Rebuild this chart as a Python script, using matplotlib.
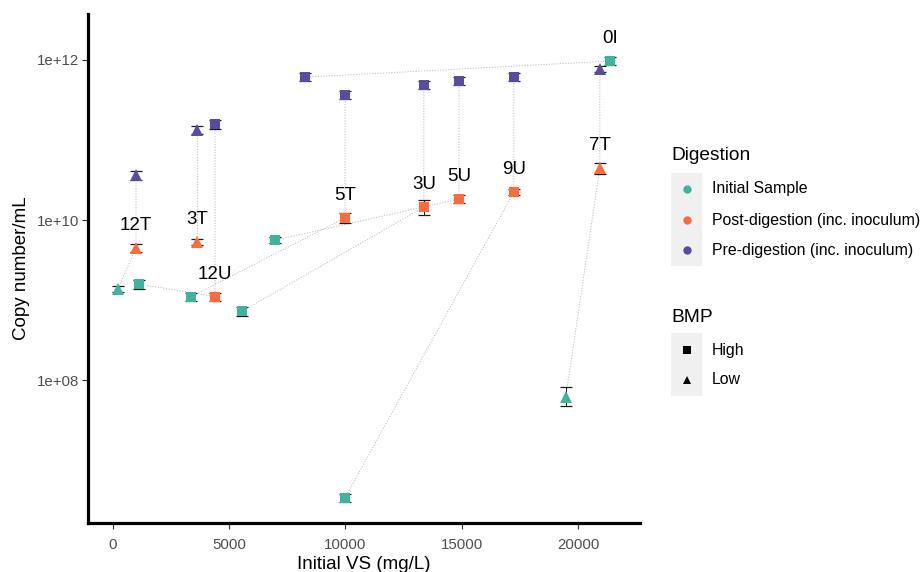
import matplotlib
matplotlib.use("Agg")
import matplotlib.pyplot as plt
from matplotlib.patches import Rectangle

plt.rcParams['font.family'] = ['Liberation Sans', 'DejaVu Sans']

# ---------------- data ----------------
# Initial sample (teal)
init_samples = ["0I", "12T", "12U", "5T", "3U", "5U", "9U", "7T"]
init_bmp = ["High", "Low", "High", "High", "High", "High", "High", "Low"]
init_vs = [21370, 215, 1118, 3353, 5546, 6965, 9975, 19475]
init_copies = [9.7e11, 1.38e9, 1.58e9, 1.1e9, 7.2e8, 5.6e9, 3.35e6, 6.2e7]
init_lo = [8.65e11, 1.27e9, 1.39e9, 9.8e8, 6.4e8, 5.1e9, 2.95e6, 4.7e7]
init_hi = [1.09e12, 1.50e9, 1.80e9, 1.23e9, 8.1e8, 6.1e9, 3.80e6, 8.15e7]

# Post-digestion (orange)
post_samples = ["12T", "3T", "12U", "5T", "3U", "5U", "9U", "7T"]
post_bmp = ["Low", "Low", "High", "High", "High", "High", "High", "Low"]
post_vs = [990, 3610, 4390, 9980, 13370, 14880, 17240, 20940]
post_copies = [4.5e9, 5.3e9, 1.1e9, 1.06e10, 1.45e10, 1.83e10, 2.24e10, 4.47e10]
post_lo = [4.0e9, 4.85e9, 9.8e8, 9.2e9, 1.15e10, 1.63e10, 2.03e10, 3.8e10]
post_hi = [5.05e9, 5.8e9, 1.23e9, 1.22e10, 1.77e10, 2.05e10, 2.47e10, 5.2e10]

# Pre-digestion (purple)
pre_samples = ["0I", "12T", "3T", "12U", "5T", "3U", "5U", "9U", "7T"]
pre_bmp = ["High", "Low", "Low", "High", "High", "High", "High", "High", "Low"]
pre_vs = [8254, 990, 3610, 4390, 9980, 13370, 14880, 17240, 20940]
pre_copies = [6.1e11, 3.6e10, 1.33e11, 1.58e11, 3.65e11, 4.9e11, 5.45e11, 6.1e11, 7.7e11]
pre_lo = [5.45e11, 3.2e10, 1.19e11, 1.39e11, 3.25e11, 4.37e11, 4.86e11, 5.45e11, 7.05e11]
pre_hi = [6.85e11, 4.05e10, 1.49e11, 1.8e11, 4.1e11, 5.5e11, 6.1e11, 6.85e11, 8.4e11]

x_ticks = [0, 5000, 10000, 15000, 20000]
y_ticks = [1e8, 1e10, 1e12]
y_tick_labels = ["1e+08", "1e+10", "1e+12"]

digestion_names = ["Initial Sample", "Post-digestion (inc. inoculum)", "Pre-digestion (inc. inoculum)"]
bmp_names = ["High", "Low"]

# ---------------- styles ----------------
COLORS = {"Initial Sample": "#3DB59D", "Post-digestion (inc. inoculum)": "#FF6A3B",
          "Pre-digestion (inc. inoculum)": "#5A4AA0"}
MARKERS = {"High": "s", "Low": "^"}
MSIZE = {"High": 7.0, "Low": 8.0}

W, H = 921, 572
fig = plt.figure(figsize=(W / 100, H / 100), dpi=100)
ax = fig.add_axes([88 / W, 49 / H, 552 / W, 509 / H])

stages = [
    ("Initial Sample", init_samples, init_bmp, init_vs, init_copies, init_lo, init_hi),
    ("Post-digestion (inc. inoculum)", post_samples, post_bmp, post_vs, post_copies, post_lo, post_hi),
    ("Pre-digestion (inc. inoculum)", pre_samples, pre_bmp, pre_vs, pre_copies, pre_lo, pre_hi),
]

# connecting paths per sample: Initial -> Post -> Pre
all_samples = []
for st in stages:
    for s in st[1]:
        if s not in all_samples:
            all_samples.append(s)
for s in all_samples:
    xs, ys = [], []
    for st in stages:
        if s in st[1]:
            i = st[1].index(s)
            xs.append(st[3][i])
            ys.append(st[4][i])
    ax.plot(xs, ys, color="#BDBDBD", lw=0.7, ls=(0, (1.2, 1.6)), zorder=1)

# error bars (behind) and points
for name, samples, bmps, vs, cp, lo, hi in stages:
    for i in range(len(samples)):
        ax.errorbar([vs[i]], [cp[i]], yerr=[[cp[i] - lo[i]], [hi[i] - cp[i]]],
                    fmt="none", ecolor="#1a1a1a", elinewidth=0.7, capsize=4.2,
                    capthick=0.9, zorder=2)
        ax.plot([vs[i]], [cp[i]], marker=MARKERS[bmps[i]], ms=MSIZE[bmps[i]],
                color=COLORS[name], mew=0, ls="none", zorder=3)

# sample labels: above post-digestion point, else above initial point
for s in all_samples:
    if s in post_samples:
        i = post_samples.index(s)
        x, y = post_vs[i], post_copies[i]
    else:
        i = init_samples.index(s)
        x, y = init_vs[i], init_copies[i]
    ax.annotate(s, (x, y), xytext=(0, 16), textcoords="offset points",
                ha="center", va="center", fontsize=13.5, color="black", zorder=5)

ax.set_yscale("log")
ax.set_xlim(-1075, 22667)
ax.set_ylim(10 ** 6.2125, 10 ** 12.575)
ax.set_xticks(x_ticks)
ax.set_xticklabels([str(t) for t in x_ticks])
ax.set_yticks(y_ticks)
ax.set_yticklabels(y_tick_labels)
ax.minorticks_off()
ax.tick_params(axis="both", length=4, width=0.8, color="#333333",
               labelcolor="#4D4D4D", labelsize=10.8)
ax.tick_params(axis="x", pad=7)
ax.tick_params(axis="y", pad=2.5)
for side in ["top", "right"]:
    ax.spines[side].set_visible(False)
for side in ["left", "bottom"]:
    ax.spines[side].set_linewidth(2.3)
    ax.spines[side].set_color("black")
ax.set_xlabel("Initial VS (mg/L)", fontsize=13.5, labelpad=3)
ax.set_ylabel("Copy number/mL", fontsize=13.5, labelpad=5)

# ---------------- legend (pixel coordinates) ----------------
lax = fig.add_axes([0, 0, 1, 1])
lax.set_xlim(0, W)
lax.set_ylim(H, 0)
lax.axis("off")
lax.patch.set_visible(False)

lax.text(671, 156, "Digestion", fontsize=13.8, va="center", ha="left")
lax.add_patch(Rectangle((671, 173), 31, 93, color="#F0F0F0", lw=0))
for j, (nm, yy) in enumerate(zip(digestion_names, [189, 220, 250])):
    lax.plot([686.5], [yy], marker="o", ms=6, color=COLORS[nm], mew=0)
    lax.text(712, yy, nm, fontsize=11.4, va="center", ha="left")

lax.text(671, 317, "BMP", fontsize=13.8, va="center", ha="left")
lax.add_patch(Rectangle((671, 333), 31, 63, color="#F0F0F0", lw=0))
for nm, yy in zip(bmp_names, [350, 380]):
    lax.plot([686.5], [yy], marker=MARKERS[nm], ms=5.5 if nm == "High" else 6.2,
             color="black", mew=0)
    lax.text(712, yy, nm, fontsize=11.4, va="center", ha="left")

fig.savefig("out.png", dpi=100)
